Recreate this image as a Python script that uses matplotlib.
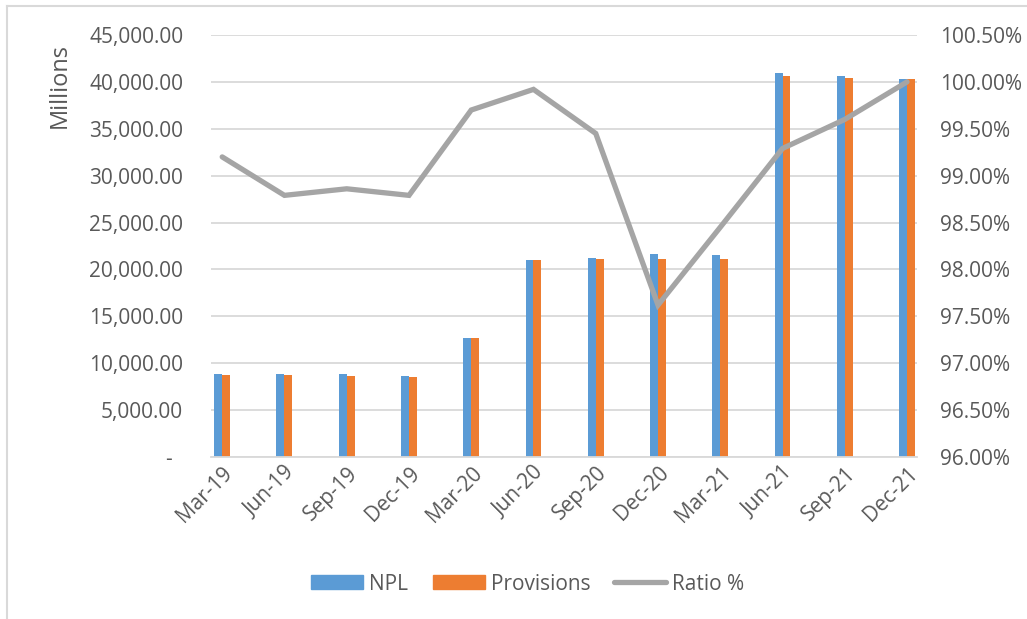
import matplotlib

matplotlib.use("Agg")

import matplotlib.pyplot as plt
from matplotlib.lines import Line2D
from matplotlib.ticker import FuncFormatter, MultipleLocator
import numpy as np

quarters = ["Mar-19", "Jun-19", "Sep-19", "Dec-19", "Mar-20", "Jun-20",
            "Sep-20", "Dec-20", "Mar-21", "Jun-21", "Sep-21", "Dec-21"]
npl = [8840, 8840, 8840, 8660, 12660, 20960,
       21250, 21650, 21500, 40930, 40610, 40260]
provisions = [8730, 8730, 8630, 8520, 12660, 20960,
              21110, 21140, 21140, 40610, 40400, 40260]
ratio_pct = [99.20, 98.79, 98.86, 98.79, 99.70, 99.92,
             99.45, 97.62, 98.45, 99.29, 99.60, 100.00]

BLUE = "#5b9bd5"
ORANGE = "#ed7d31"
GRAY = "#a5a5a5"
TEXT = "#595959"
GRID = "#d9d9d9"
FS = 15

plt.rcParams["font.family"] = ["Open Sans", "DejaVu Sans"]

fig = plt.figure(figsize=(10.27, 6.19), dpi=100)
ax = fig.add_axes([211 / 1027, 1 - 457 / 619, (917 - 211) / 1027, (457 - 35) / 619])

x = np.arange(len(quarters))
width = 0.128
ax.bar(x - width / 2, npl, width, color=BLUE, label="NPL", zorder=2)
ax.bar(x + width / 2, provisions, width, color=ORANGE, label="Provisions", zorder=2)

ax.set_xlim(-0.18, 11.16)
ax.set_ylim(0, 45000)
ax.yaxis.set_major_locator(MultipleLocator(5000))
ax.yaxis.set_major_formatter(FuncFormatter(lambda v, _: "-  " if v == 0 else f"{v:,.2f}"))
ax.grid(True, axis="y", color=GRID, linewidth=1.3, zorder=0)
ax.set_axisbelow(True)
for side in ["top", "right", "left"]:
    ax.spines[side].set_visible(False)
ax.spines["bottom"].set_color(GRID)
ax.spines["bottom"].set_linewidth(1.3)
ax.tick_params(axis="y", length=0, pad=20, labelsize=FS, labelcolor=TEXT)
ax.tick_params(axis="x", length=0, pad=4, labelsize=FS, labelcolor=TEXT)
ax.set_xticks(x)
ax.set_xticklabels(quarters, rotation=45, ha="right", va="top", rotation_mode="anchor")

ax2 = ax.twinx()
ax2.plot(x, ratio_pct, color=GRAY, linewidth=3.8, solid_capstyle="round",
         solid_joinstyle="miter", label="Ratio %", zorder=3)
ax2.set_ylim(96.0, 100.5)
ax2.yaxis.set_major_locator(MultipleLocator(0.5))
ax2.yaxis.set_major_formatter(FuncFormatter(lambda v, _: f"{v:.2f}%"))
for side in ["top", "right", "left", "bottom"]:
    ax2.spines[side].set_visible(False)
ax2.tick_params(axis="y", length=0, pad=16.5, labelsize=FS, labelcolor=TEXT)

fig.text(60 / 1027, 1 - 86 / 619, "Millions", rotation=90, ha="center", va="center",
         fontsize=17, color=TEXT)

# legend entries placed one by one, like Excel's uneven spacing
entries = [
    (plt.Rectangle((0, 0), 1, 1, color=BLUE), "NPL", 311),
    (plt.Rectangle((0, 0), 1, 1, color=ORANGE), "Provisions", 433),
    (Line2D([], [], color=GRAY, linewidth=3.8, solid_capstyle="round"), "Ratio %", 614),
]
for handle, label, left in entries:
    fig.legend([handle], [label], loc="center left",
               bbox_to_anchor=(left / 1027, 1 - 584 / 619), frameon=False,
               fontsize=FS, labelcolor=TEXT, handlelength=2.5, handleheight=0.67,
               handletextpad=0.3, borderpad=0, borderaxespad=0)

# light outline around the chart area
fig.add_artist(Line2D([7 / 1027, 7 / 1027], [0, 1 - 6 / 619], transform=fig.transFigure,
                      color=GRID, linewidth=1.5))
fig.add_artist(Line2D([7 / 1027, 1], [1 - 6 / 619, 1 - 6 / 619], transform=fig.transFigure,
                      color=GRID, linewidth=1.5))

fig.savefig("out.png", dpi=100)
plt.close(fig)
